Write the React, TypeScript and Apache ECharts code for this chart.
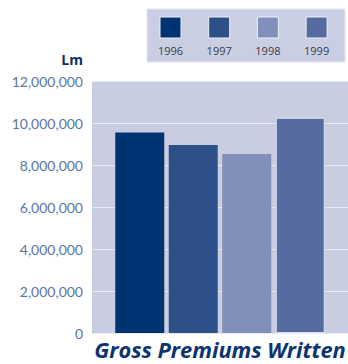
import React, { useEffect, useRef } from "react";
import * as echarts from "echarts";

const years = ["1996", "1997", "1998", "1999"];
const premiums = [9550000, 8950000, 8520000, 10250000];
const barColors = ["#003372", "#2e5089", "#8190bb", "#566ca0"];
const yTicks = [0, 2000000, 4000000, 6000000, 8000000, 10000000, 12000000];
const unitLabel = "Lm";
const titleText = "Gross Premiums Written";

const fmt = (v: number) => v.toLocaleString("en-US");

export default function App() {
  const ref = useRef<HTMLDivElement>(null);
  useEffect(() => {
    if (!ref.current) return;
    const chart = echarts.init(ref.current, undefined, { renderer: "svg" });
    const legendX0 = 160;
    const legendStep = 48.7;
    const legendEls: any[] = [
      {
        type: "rect",
        shape: { x: 147, y: 9, width: 198, height: 53 },
        style: { fill: "#c9cee3", stroke: "#e3e6f1", lineWidth: 1 },
        z: 1,
      },
    ];
    years.forEach((y, i) => {
      legendEls.push({
        type: "rect",
        shape: { x: legendX0 + i * legendStep, y: 17, width: 21, height: 21 },
        style: { fill: barColors[i], stroke: "#eef0f7", lineWidth: 1 },
        z: 2,
      });
      legendEls.push({
        type: "text",
        x: legendX0 + i * legendStep + 10.5,
        y: 50,
        style: {
          text: y,
          fill: "#3c3c44",
          font: "11px 'Open Sans'",
          align: "center",
          verticalAlign: "middle",
        },
        z: 2,
      });
    });

    chart.setOption({
      animation: false,
      grid: [
        {
          left: 92,
          right: 0,
          top: 81,
          bottom: 31,
          show: true,
          backgroundColor: "#c8cde2",
          borderWidth: 0,
        },
        { left: 113, width: 214, top: 81, bottom: 31 },
      ],
      xAxis: [
        { type: "category", gridIndex: 0, data: years, show: false },
        {
          type: "category",
          gridIndex: 1,
          data: years,
          show: false,
        },
      ],
      yAxis: [
        {
          type: "value",
          gridIndex: 0,
          min: 0,
          max: 12000000,
          interval: 2000000,
          axisLine: { show: false },
          axisTick: { show: false },
          axisLabel: {
            formatter: (v: number) => fmt(v),
            color: "#5b74a4",
            fontFamily: "Lato",
            fontSize: 14,
            margin: 9,
          },
          splitLine: { lineStyle: { color: "#e6e9f3", width: 1 } },
        },
        {
          type: "value",
          gridIndex: 1,
          min: 0,
          max: 12000000,
          show: false,
          splitLine: { show: false },
        },
      ],
      series: [
        {
          type: "bar",
          xAxisIndex: 1,
          yAxisIndex: 1,
          barWidth: 49,
          data: premiums.map((v, i) => ({
            value: v,
            itemStyle: {
              color: barColors[i],
              borderColor: i === 3 ? "#dde2f0" : barColors[i],
              borderWidth: i === 3 ? 1 : 0,
            },
          })),
          z: 3,
        },
      ],
      graphic: [
        ...legendEls,
        {
          type: "text",
          x: 83,
          y: 59,
          style: {
            text: unitLabel,
            fill: "#0d2f66",
            font: "bold 14px 'Open Sans'",
            align: "right",
            verticalAlign: "middle",
          },
        },
        {
          type: "text",
          x: 220,
          y: 350,
          scaleX: 1.04,
          style: {
            text: titleText,
            fill: "#0b3470",
            font: "italic bold 21px 'Open Sans'",
            lineHeight: 20,
            align: "center",
            verticalAlign: "middle",
          },
        },
      ],
    });
    return () => chart.dispose();
  }, []);
  return <div ref={ref} style={{ width: 348, height: 364, position: "absolute", left: 0, top: 0 }} />;
}
